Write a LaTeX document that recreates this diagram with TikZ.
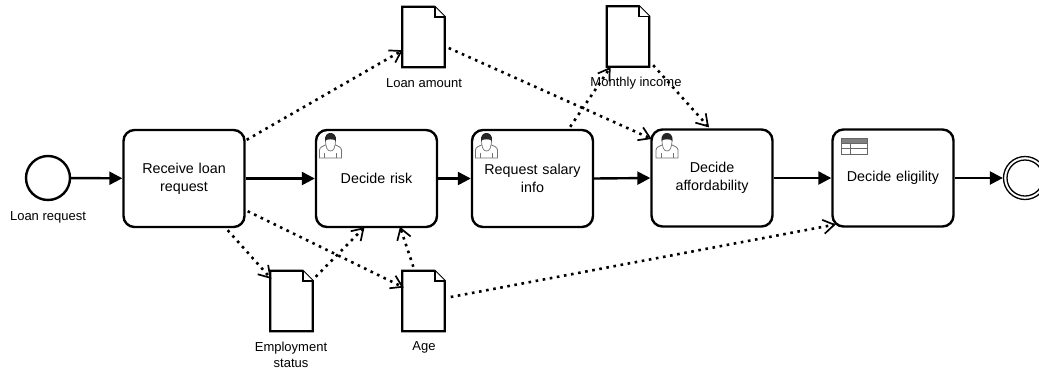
\documentclass[tikz,border=0pt]{standalone}
\usepackage{fontspec}
\setmainfont{Liberation Sans}
\usetikzlibrary{arrows.meta,calc,decorations.markings}
\tikzset{
  x=1pt,y=-1pt,
  task/.style={draw=black,line width=2.4pt,rounded corners=11pt,fill=white,minimum width=121pt,minimum height=97pt,inner sep=0pt,align=center,text width=110pt,font=\fontsize{14.3}{18}\selectfont},
  docbox/.style={minimum width=42pt,minimum height=60pt,inner sep=0pt},
  docline/.style={draw=black,line width=2.2pt,line join=miter,fill=white},
  foldline/.style={draw=black,line width=1.6pt,fill=white},
  lbl/.style={inner sep=0pt,align=center,font=\fontsize{13}{16}\selectfont},
  startev/.style={circle,draw=black,line width=2.4pt,minimum size=44pt,inner sep=0pt,fill=white},
  endev/.style={circle,draw=black,line width=1.3pt,minimum size=43pt,inner sep=0pt,fill=white},
  endin/.style={circle,draw=black,line width=1.3pt,minimum size=36pt,inner sep=0pt},
  flow/.style={draw=black,line width=2.4pt,-{Triangle[length=13pt,width=13pt]}},
  assoc/.style={draw=black,line width=2.6pt,dash pattern=on 2.6pt off 4.6pt,
    postaction={decorate},
    decoration={markings,mark=at position 1 with {\draw[solid,line width=1.7pt,black] (-11,-7) -- (0,0) -- (-11,7);}}},
}
\newcommand{\docnode}[3]{%
  \node[docbox] (#1) at (#2,#3) {};
  \draw[docline] (#1.north west) -- ($(#1.north east)+(-10,0)$) -- ($(#1.north east)+(0,10)$) -- (#1.south east) -- (#1.south west) -- cycle;
  \draw[foldline] ($(#1.north east)+(-10,0)$) -- ($(#1.north east)+(-10,10)$) -- ($(#1.north east)+(0,10)$);
}
\newcommand{\usericon}[1]{%
  \begin{scope}[shift={(#1)}]
    \draw[draw=black!55,line width=0.8pt,fill=white] (-11,25) -- (-11,17) .. controls (-11,14) and (-7,13) .. (-4,11.5) -- (4,11.5) .. controls (7,13) and (11,14) .. (11,17) -- (11,25) -- cycle;
    \draw[draw=black!55,line width=0.7pt] (-6,25) -- (-6,20) (6,25) -- (6,20);
    \draw[draw=black!55,line width=0.7pt,fill=white] (-5,6) .. controls (-5,15) and (-3,18) .. (0,18) .. controls (3,18) and (5,15) .. (5,6) -- cycle;
    \fill[black!85] (-5.5,8) .. controls (-6,2) and (-3,0) .. (0,0) .. controls (3,0) and (6,2) .. (5.5,8) .. controls (4,5.5) and (-4,5.5) .. (-5.5,8) -- cycle;
  \end{scope}
}
\begin{document}
\begin{tikzpicture}
\clip (0,0) rectangle (1039,373);
\fill[white] (0,0) rectangle (1039,373);
% events
\node[startev] (start) at (48,178) {};
\node[lbl,anchor=center] (startlbl) at (48,217) {Loan request};
\node[endev] (end) at (1025,178) {};
\node[endin] (endinner) at (1025,178) {};
% tasks
\node[task] (recv) at (184,178.5) {Receive loan\\request};
\node[task] (risk) at (376.5,178.5) {Decide risk};
\node[task] (req) at (532.5,178.5) {Request salary\\info};
\node[task] (aff) at (712,178) {\raisebox{-1pt}{Decide}\\\raisebox{-1pt}{affordability}};
\node[task] (elig) at (893,178) {Decide eligility};
% documents
\docnode{loan}{423.5}{37}
\docnode{income}{628}{36.5}
\docnode{emp}{291.5}{301}
\docnode{age}{423.5}{301}
\node[lbl] (loanlbl) at (424,83) {Loan amount};
\node[lbl] (emplbl) at (291,355) {Employment\\status};
\node[lbl] (agelbl) at (424,347) {Age};
% sequence flows
\draw[flow] (start) -- (recv);
\draw[flow] (recv.east) -- (risk.west);
\draw[flow] (risk.east) -- (req.west);
\draw[flow] (req.east) -- (aff.west);
\draw[flow] (aff.east) -- (elig.west);
\draw[flow] (elig.east) -- (end.west);
% associations
\draw[assoc] ($(recv.north east)+(1,11)$) -- ($(loan.west)+(-1,14)$);
\draw[assoc] ($(loan.east)+(4,11)$) -- ($(aff.north west)+(0,10)$);
\draw[assoc] ($(req.north east)+(-24,-2)$) -- ($(income.south west)+(3,1.5)$);
\draw[assoc] ($(income.south east)+(4,-1.5)$) -- ($(aff.north)+(-4,-2)$);
\draw[assoc] ($(recv.south east)+(-18,2)$) -- ($(emp.north west)+(0,7)$);
\draw[assoc] ($(emp.north east)+(3,6)$) -- ($(risk.south)+(-13,0)$);
\draw[assoc] ($(recv.south east)+(2,-17)$) -- ($(age.north west)+(0,16)$);
\draw[assoc] ($(age.north west)+(11,-4)$) -- ($(risk.south)+(24,0)$);
\draw[assoc] ($(age.east)+(6,-4)$) -- ($(elig.south west)+(3,-3)$);
% label over lines
\node[lbl] (inclbl) at (636,83) {Monthly income};
% icons
\usericon{330.5,133}
\usericon{486.5,133}
\usericon{667,133}
\node[minimum width=25pt,minimum height=15pt,inner sep=0pt] (tbl) at (854.5,146.5) {};
\fill[black!50] (tbl.north west) rectangle ($(tbl.north east)+(0,5)$);
\draw[black!60,line width=0.9pt] (tbl.north west) rectangle (tbl.south east);
\draw[black!60,line width=0.8pt] ($(tbl.north west)+(0,5)$) -- ($(tbl.north east)+(0,5)$)
  ($(tbl.north west)+(0,10)$) -- ($(tbl.north east)+(0,10)$)
  ($(tbl.north west)+(8.5,5)$) -- ($(tbl.south west)+(8.5,0)$);
\end{tikzpicture}
\end{document}
